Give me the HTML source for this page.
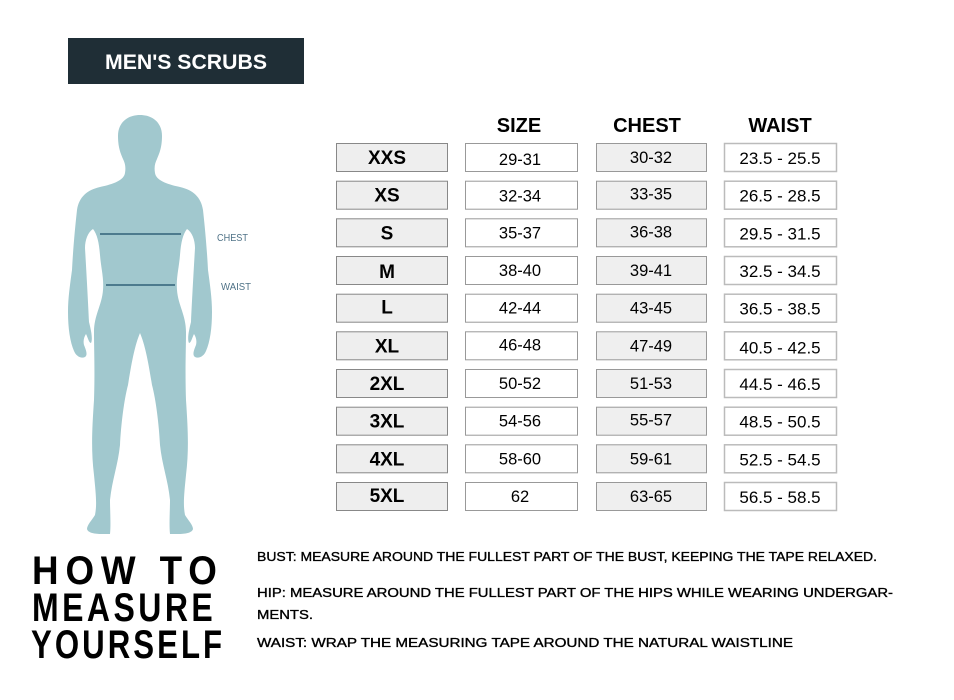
<!DOCTYPE html>
<html>
<head>
<meta charset="utf-8">
<style>
html,body{margin:0;padding:0;background:#fff;}
svg{display:block;}
text{font-family:"Liberation Sans",Arial,sans-serif;}
</style>
</head>
<body>
<svg width="954" height="700" viewBox="0 0 954 700" xmlns="http://www.w3.org/2000/svg">
<rect x="0" y="0" width="954" height="700" fill="#ffffff"/>

<!-- Header -->
<rect x="68" y="38" width="236" height="46" fill="#1f2e36"/>
<text x="186" y="69" fill="#ffffff" font-size="21" font-weight="bold" text-anchor="middle" textLength="162" lengthAdjust="spacingAndGlyphs">MEN'S SCRUBS</text>

<!-- Silhouette -->
<g fill="#a1c8ce">
<path id="half" d="M140,115
C152,115 162,122 162,136
C162,148 159,154 157,159
C155,163 154,167 155,173
C156,180 166,184 180,187
C193,190 201,197 203,210
C205,228 207,250 208,270
C210,285 212,298 212,312
C212,328 210,342 206,351
C204,356 199,359 195,357
C192,355 194,350 196,345
C197,341 196,337 194,334
C192,338 191,343 189,343
C187,339 189,330 191,322
C192,300 194,265 195,248
C195,240 192,232 187,229
C183,234 181,242 180,255
C179,268 176,278 177,290
C178,305 186,315 186,332
C186,350 185,370 186,400
C188,430 189,450 186,475
C184,495 183,505 185,515
C188,520 193,525 193,529
C192,533 185,534 178,534
L170,534
C169,525 170,510 170,500
C168,480 162,465 160,445
C159,425 156,400 152,385
C148,360 145,345 140,333
L138,333 L138,115 Z"/>
<use href="#half" transform="translate(280,0) scale(-1,1)"/>
</g>
<rect x="100" y="233" width="81" height="2" fill="#4d7b8e"/>
<rect x="106" y="284" width="69" height="2" fill="#4d7b8e"/>
<text x="217" y="241" fill="#4f7287" font-size="10" textLength="31" lengthAdjust="spacingAndGlyphs">CHEST</text>
<text x="221" y="290" fill="#4f7287" font-size="10" textLength="30" lengthAdjust="spacingAndGlyphs">WAIST</text>

<!-- Table headers -->
<g font-size="20" font-weight="bold" fill="#000" text-anchor="middle">
<text x="519" y="132">SIZE</text>
<text x="647" y="132">CHEST</text>
<text x="780" y="132">WAIST</text>
</g>

<g stroke-width="1">
<g transform="translate(0,143)">
<rect x="336.5" y="0.5" width="111" height="28" fill="#eeeeee" stroke="#888"/>
<rect x="465.5" y="0.5" width="112" height="28" fill="#fff" stroke="#999"/>
<rect x="596.5" y="0.5" width="110" height="28" fill="#efefef" stroke="#999"/>
<rect x="724.5" y="0.5" width="112" height="28" fill="#fff" stroke="#bbb" stroke-width="1.5"/>
<text x="387" y="21" font-size="19" font-weight="bold" text-anchor="middle">XXS</text>
<text x="520" y="22" font-size="16.5" text-anchor="middle">29-31</text>
<text x="651" y="20" font-size="16.5" text-anchor="middle">30-32</text>
<text x="780" y="21" font-size="17" text-anchor="middle">23.5 - 25.5</text>
</g>
<g transform="translate(0,180.7)">
<rect x="336.5" y="0.5" width="111" height="28" fill="#eeeeee" stroke="#888"/>
<rect x="465.5" y="0.5" width="112" height="28" fill="#fff" stroke="#999"/>
<rect x="596.5" y="0.5" width="110" height="28" fill="#efefef" stroke="#999"/>
<rect x="724.5" y="0.5" width="112" height="28" fill="#fff" stroke="#bbb" stroke-width="1.5"/>
<text x="387" y="21" font-size="19" font-weight="bold" text-anchor="middle">XS</text>
<text x="520" y="21" font-size="16.5" text-anchor="middle">32-34</text>
<text x="651" y="19" font-size="16.5" text-anchor="middle">33-35</text>
<text x="780" y="21" font-size="17" text-anchor="middle">26.5 - 28.5</text>
</g>
<g transform="translate(0,218.3)">
<rect x="336.5" y="0.5" width="111" height="28" fill="#eeeeee" stroke="#888"/>
<rect x="465.5" y="0.5" width="112" height="28" fill="#fff" stroke="#999"/>
<rect x="596.5" y="0.5" width="110" height="28" fill="#efefef" stroke="#999"/>
<rect x="724.5" y="0.5" width="112" height="28" fill="#fff" stroke="#bbb" stroke-width="1.5"/>
<text x="387" y="21" font-size="19" font-weight="bold" text-anchor="middle">S</text>
<text x="520" y="20" font-size="16.5" text-anchor="middle">35-37</text>
<text x="651" y="19" font-size="16.5" text-anchor="middle">36-38</text>
<text x="780" y="21" font-size="17" text-anchor="middle">29.5 - 31.5</text>
</g>
<g transform="translate(0,256)">
<rect x="336.5" y="0.5" width="111" height="28" fill="#eeeeee" stroke="#888"/>
<rect x="465.5" y="0.5" width="112" height="28" fill="#fff" stroke="#999"/>
<rect x="596.5" y="0.5" width="110" height="28" fill="#efefef" stroke="#999"/>
<rect x="724.5" y="0.5" width="112" height="28" fill="#fff" stroke="#bbb" stroke-width="1.5"/>
<text x="387" y="22" font-size="19" font-weight="bold" text-anchor="middle">M</text>
<text x="520" y="20" font-size="16.5" text-anchor="middle">38-40</text>
<text x="651" y="20" font-size="16.5" text-anchor="middle">39-41</text>
<text x="780" y="21" font-size="17" text-anchor="middle">32.5 - 34.5</text>
</g>
<g transform="translate(0,293.7)">
<rect x="336.5" y="0.5" width="111" height="28" fill="#eeeeee" stroke="#888"/>
<rect x="465.5" y="0.5" width="112" height="28" fill="#fff" stroke="#999"/>
<rect x="596.5" y="0.5" width="110" height="28" fill="#efefef" stroke="#999"/>
<rect x="724.5" y="0.5" width="112" height="28" fill="#fff" stroke="#bbb" stroke-width="1.5"/>
<text x="387" y="20" font-size="19" font-weight="bold" text-anchor="middle">L</text>
<text x="520" y="20" font-size="16.5" text-anchor="middle">42-44</text>
<text x="651" y="20" font-size="16.5" text-anchor="middle">43-45</text>
<text x="780" y="21" font-size="17" text-anchor="middle">36.5 - 38.5</text>
</g>
<g transform="translate(0,331.3)">
<rect x="336.5" y="0.5" width="111" height="28" fill="#eeeeee" stroke="#888"/>
<rect x="465.5" y="0.5" width="112" height="28" fill="#fff" stroke="#999"/>
<rect x="596.5" y="0.5" width="110" height="28" fill="#efefef" stroke="#999"/>
<rect x="724.5" y="0.5" width="112" height="28" fill="#fff" stroke="#bbb" stroke-width="1.5"/>
<text x="387" y="21" font-size="19" font-weight="bold" text-anchor="middle">XL</text>
<text x="520" y="19" font-size="16.5" text-anchor="middle">46-48</text>
<text x="651" y="20" font-size="16.5" text-anchor="middle">47-49</text>
<text x="780" y="22" font-size="17" text-anchor="middle">40.5 - 42.5</text>
</g>
<g transform="translate(0,369)">
<rect x="336.5" y="0.5" width="111" height="28" fill="#eeeeee" stroke="#888"/>
<rect x="465.5" y="0.5" width="112" height="28" fill="#fff" stroke="#999"/>
<rect x="596.5" y="0.5" width="110" height="28" fill="#efefef" stroke="#999"/>
<rect x="724.5" y="0.5" width="112" height="28" fill="#fff" stroke="#bbb" stroke-width="1.5"/>
<text x="387" y="21" font-size="19" font-weight="bold" text-anchor="middle">2XL</text>
<text x="520" y="20" font-size="16.5" text-anchor="middle">50-52</text>
<text x="651" y="20" font-size="16.5" text-anchor="middle">51-53</text>
<text x="780" y="21" font-size="17" text-anchor="middle">44.5 - 46.5</text>
</g>
<g transform="translate(0,406.7)">
<rect x="336.5" y="0.5" width="111" height="28" fill="#eeeeee" stroke="#888"/>
<rect x="465.5" y="0.5" width="112" height="28" fill="#fff" stroke="#999"/>
<rect x="596.5" y="0.5" width="110" height="28" fill="#efefef" stroke="#999"/>
<rect x="724.5" y="0.5" width="112" height="28" fill="#fff" stroke="#bbb" stroke-width="1.5"/>
<text x="387" y="21" font-size="19" font-weight="bold" text-anchor="middle">3XL</text>
<text x="520" y="20" font-size="16.5" text-anchor="middle">54-56</text>
<text x="651" y="19" font-size="16.5" text-anchor="middle">55-57</text>
<text x="780" y="21" font-size="17" text-anchor="middle">48.5 - 50.5</text>
</g>
<g transform="translate(0,444.3)">
<rect x="336.5" y="0.5" width="111" height="28" fill="#eeeeee" stroke="#888"/>
<rect x="465.5" y="0.5" width="112" height="28" fill="#fff" stroke="#999"/>
<rect x="596.5" y="0.5" width="110" height="28" fill="#efefef" stroke="#999"/>
<rect x="724.5" y="0.5" width="112" height="28" fill="#fff" stroke="#bbb" stroke-width="1.5"/>
<text x="387" y="21" font-size="19" font-weight="bold" text-anchor="middle">4XL</text>
<text x="520" y="20" font-size="16.5" text-anchor="middle">58-60</text>
<text x="651" y="20" font-size="16.5" text-anchor="middle">59-61</text>
<text x="780" y="21" font-size="17" text-anchor="middle">52.5 - 54.5</text>
</g>
<g transform="translate(0,482)">
<rect x="336.5" y="0.5" width="111" height="28" fill="#eeeeee" stroke="#888"/>
<rect x="465.5" y="0.5" width="112" height="28" fill="#fff" stroke="#999"/>
<rect x="596.5" y="0.5" width="110" height="28" fill="#efefef" stroke="#999"/>
<rect x="724.5" y="0.5" width="112" height="28" fill="#fff" stroke="#bbb" stroke-width="1.5"/>
<text x="387" y="20" font-size="19" font-weight="bold" text-anchor="middle">5XL</text>
<text x="520" y="20" font-size="16.5" text-anchor="middle">62</text>
<text x="651" y="20" font-size="16.5" text-anchor="middle">63-65</text>
<text x="780" y="21" font-size="17" text-anchor="middle">56.5 - 58.5</text>
</g>
</g>

<!-- How to measure -->
<g font-size="40" font-weight="bold" fill="#000">
<g transform="translate(32,0) scale(0.92,1)">
<text x="0" y="584" textLength="201" lengthAdjust="spacing">HOW TO</text>
</g>
<g transform="translate(32,0) scale(0.8,1)">
<text x="0" y="621" textLength="226" lengthAdjust="spacing">MEASURE</text>
</g>
<g transform="translate(31,0) scale(0.78,1)">
<text x="0" y="658" textLength="245" lengthAdjust="spacing">YOURSELF</text>
</g>
</g>

<g font-size="13" fill="#000" stroke="#000" stroke-width="0.35">
<text x="257" y="561" textLength="620" lengthAdjust="spacingAndGlyphs">BUST: MEASURE AROUND THE FULLEST PART OF THE BUST, KEEPING THE TAPE RELAXED.</text>
<text x="257" y="597" textLength="636" lengthAdjust="spacingAndGlyphs">HIP: MEASURE AROUND THE FULLEST PART OF THE HIPS WHILE WEARING UNDERGAR-</text>
<text x="257" y="619" textLength="56" lengthAdjust="spacingAndGlyphs">MENTS.</text>
<text x="257" y="647" textLength="536" lengthAdjust="spacingAndGlyphs">WAIST: WRAP THE MEASURING TAPE AROUND THE NATURAL WAISTLINE</text>
</g>
</svg>
</body>
</html>
